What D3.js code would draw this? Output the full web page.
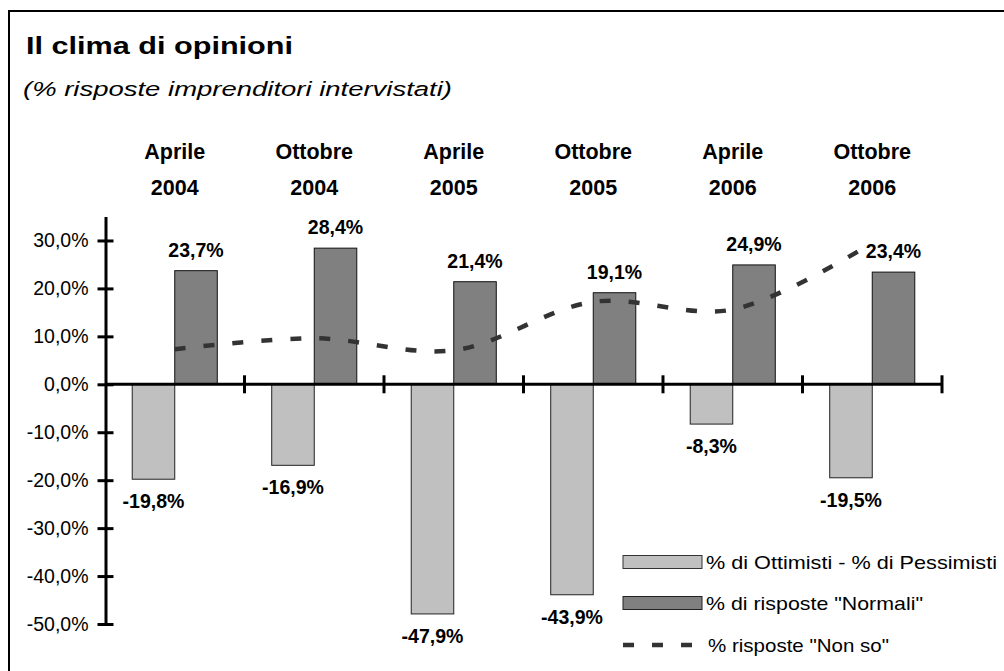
<!DOCTYPE html>
<html>
<head>
<meta charset="utf-8">
<script src="https://cdn.jsdelivr.net/npm/d3@7"></script>
<style>
  body { margin: 0; background: #fff; }
  svg { display: block; font-family: "Liberation Sans", Arial, sans-serif; }
</style>
</head>
<body>
<svg id="chart" width="1004" height="671"></svg>
<script>
// data
const categories = ['Aprile 2004', 'Ottobre 2004', 'Aprile 2005', 'Ottobre 2005', 'Aprile 2006', 'Ottobre 2006'];
const ottimistiPessimisti = [-19.8, -16.9, -47.9, -43.9, -8.3, -19.5];
const normali = [23.7, 28.4, 21.4, 19.1, 24.9, 23.4];
const nonSo = [7.3, 9.6, 7.1, 17.2, 15.6, 29.5];
const yTicks = [-50, -40, -30, -20, -10, 0, 10, 20, 30];
const seriesNames = ['% di Ottimisti - % di Pessimisti', '% di risposte "Normali"', '% risposte "Non so"'];
// widths the legend texts take in the picture
const legendTextWidths = [291, 217, 181];

const LIGHT = '#c0c0c0';
const DARK = '#808080';
const LINE = '#333333';

const svg = d3.select('#chart');

const fmt = v => v.toFixed(1).replace('.', ',') + '%';

// frame (only top/left visible in the picture)
svg.append('rect')
  .attr('x', 9).attr('y', 11)
  .attr('width', 1100).attr('height', 800)
  .attr('fill', 'none')
  .attr('stroke', '#000')
  .attr('stroke-width', 2);

// title
svg.append('text')
  .attr('x', 26).attr('y', 54)
  .attr('font-size', 23).attr('font-weight', 'bold')
  .attr('textLength', 267).attr('lengthAdjust', 'spacingAndGlyphs')
  .text('Il clima di opinioni');

svg.append('text')
  .attr('x', 23).attr('y', 96)
  .attr('font-size', 20).attr('font-style', 'italic')
  .attr('textLength', 429).attr('lengthAdjust', 'spacingAndGlyphs')
  .text('(% risposte imprenditori intervistati)');

const xScale = d3.scaleBand()
  .domain(categories)
  .range([105, 942])
  .padding(0);

const xInner = d3.scaleBand()
  .domain(['op', 'norm'])
  .range([0, xScale.bandwidth()])
  .paddingInner(0)
  .paddingOuter(0.64);

const yScale = d3.scaleLinear()
  .domain([-50, 35])
  .range([624, 216.5]);

// bars
const bars = svg.append('g');
categories.forEach((c, i) => {
  const x0 = xScale(c);
  const vOp = ottimistiPessimisti[i];
  const vNo = normali[i];
  bars.append('rect')
    .attr('x', x0 + xInner('op'))
    .attr('y', yScale(Math.max(0, vOp)))
    .attr('width', xInner.bandwidth())
    .attr('height', Math.abs(yScale(vOp) - yScale(0)))
    .attr('fill', LIGHT)
    .attr('stroke', '#222')
    .attr('stroke-width', 1);
  bars.append('rect')
    .attr('x', x0 + xInner('norm'))
    .attr('y', yScale(Math.max(0, vNo)))
    .attr('width', xInner.bandwidth())
    .attr('height', Math.abs(yScale(vNo) - yScale(0)))
    .attr('fill', DARK)
    .attr('stroke', '#111')
    .attr('stroke-width', 1);
});

// data labels
const labels = svg.append('g')
  .attr('font-size', 19.5)
  .attr('font-weight', 'bold')
  .attr('text-anchor', 'middle');
categories.forEach((c, i) => {
  const x0 = xScale(c);
  labels.append('text')
    .attr('x', x0 + xInner('op') + xInner.bandwidth() / 2)
    .attr('y', yScale(ottimistiPessimisti[i]) + 29)
    .text(fmt(ottimistiPessimisti[i]));
  labels.append('text')
    .attr('x', x0 + xInner('norm') + xInner.bandwidth() / 2)
    .attr('y', yScale(normali[i]) - 14)
    .text(fmt(normali[i]));
});

// category labels on top
const catLabels = svg.append('g')
  .attr('font-size', 21.5)
  .attr('font-weight', 'bold')
  .attr('text-anchor', 'middle');
categories.forEach(c => {
  const parts = c.split(' ');
  const t = catLabels.append('text')
    .attr('x', xScale(c) + xScale.bandwidth() / 2)
    .attr('y', 159);
  t.append('tspan').text(parts[0]);
  t.append('tspan')
    .attr('x', xScale(c) + xScale.bandwidth() / 2)
    .attr('dy', 35.5)
    .text(parts[1]);
});

// y axis
const yAxis = d3.axisLeft(yScale)
  .tickValues(yTicks)
  .tickFormat(fmt)
  .tickSizeOuter(0)
  .tickPadding(11);

const yG = svg.append('g')
  .attr('transform', 'translate(105.5,0)')
  .call(yAxis);
yG.select('.domain').attr('stroke', '#000').attr('stroke-width', 3);
yG.selectAll('.tick line')
  .attr('x1', 8).attr('x2', -8)
  .attr('stroke', '#000').attr('stroke-width', 3);
yG.selectAll('.tick text')
  .attr('font-size', 19.5)
  .attr('font-family', '"Liberation Sans", Arial, sans-serif')
  .attr('fill', '#000');

// x axis at zero
const y0 = yScale(0);
const xG = svg.append('g');
xG.append('line')
  .attr('x1', xScale.range()[0]).attr('x2', xScale.range()[1])
  .attr('y1', y0).attr('y2', y0)
  .attr('stroke', '#000').attr('stroke-width', 3);
xG.selectAll('.xtick')
  .data(categories)
  .join('line')
  .attr('class', 'xtick')
  .attr('x1', d => xScale(d) + xScale.bandwidth())
  .attr('x2', d => xScale(d) + xScale.bandwidth())
  .attr('y1', y0 - 9).attr('y2', y0 + 9)
  .attr('stroke', '#000').attr('stroke-width', 3);

// "Non so" smoothed dashed line
const line = d3.line()
  .x((d, i) => xScale(categories[i]) + xScale.bandwidth() / 2)
  .y(d => yScale(d))
  .curve(d3.curveCatmullRom.alpha(0.5));

svg.append('path')
  .datum(nonSo)
  .attr('d', line)
  .attr('fill', 'none')
  .attr('stroke', LINE)
  .attr('stroke-width', 4.5)
  .attr('stroke-dasharray', '11,18');

// legend
const legend = svg.append('g').attr('font-size', 19);
const legRows = [562, 603, 645];
legend.append('rect')
  .attr('x', 623).attr('y', legRows[0] - 6.5)
  .attr('width', 79).attr('height', 13)
  .attr('fill', LIGHT).attr('stroke', '#333').attr('stroke-width', 1);
legend.append('rect')
  .attr('x', 623).attr('y', legRows[1] - 6.5)
  .attr('width', 79).attr('height', 13)
  .attr('fill', DARK).attr('stroke', '#222').attr('stroke-width', 1);
legend.append('line')
  .attr('x1', 623).attr('x2', 705)
  .attr('y1', legRows[2]).attr('y2', legRows[2])
  .attr('stroke', LINE).attr('stroke-width', 4.5)
  .attr('stroke-dasharray', '11,18');

seriesNames.forEach((s, i) => {
  legend.append('text')
    .attr('x', i === 2 ? 708 : 706)
    .attr('y', legRows[i] + 7)
    .attr('textLength', legendTextWidths[i])
    .attr('lengthAdjust', 'spacingAndGlyphs')
    .text(s);
});
</script>
</body>
</html>
